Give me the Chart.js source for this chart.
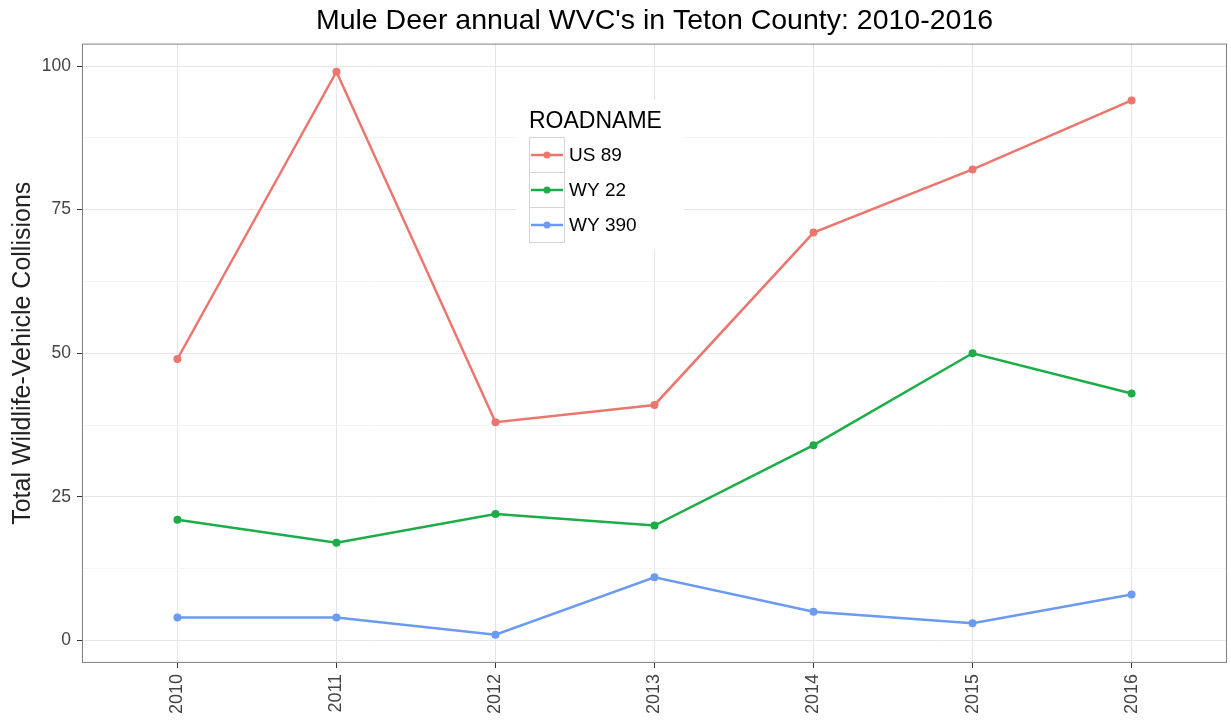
<!DOCTYPE html>
<html>
<head>
<meta charset="utf-8">
<script src="https://cdn.jsdelivr.net/npm/chart.js@4.4.1/dist/chart.umd.min.js"></script>
<style>
  html, body { margin: 0; padding: 0; background: #fff; }
  #wrap { width: 1231px; height: 721px; }
</style>
</head>
<body>
<div id="wrap"><canvas id="wvcChart"></canvas></div>
<script>
// data
const years = [2010, 2011, 2012, 2013, 2014, 2015, 2016];
const us89 = [49, 99, 38, 41, 71, 82, 94];
const wy22 = [21, 17, 22, 20, 34, 50, 43];
const wy390 = [4, 4, 1, 11, 5, 3, 8];
const yTicks = [0, 25, 50, 75, 100];
const yMinor = [12.5, 37.5, 62.5, 87.5];
const seriesNames = ['US 89', 'WY 22', 'WY 390'];
const seriesColors = ['#EC766E', '#1CAD48', '#6A9BF0'];

const FONT = '"Liberation Sans", Arial, sans-serif';

function toPoints(vals) {
    return years.map((yr, i) => ({ x: yr, y: vals[i] }));
}

// title, panel border and the inside legend
const ggExtras = {
    id: 'ggExtras',
    afterDatasetsDraw(chart) {
        const ctx = chart.ctx;
        const a = chart.chartArea;
        ctx.save();
        ctx.strokeStyle = '#7F7F7F';
        ctx.lineWidth = 1;
        ctx.strokeRect(a.left + 0.5, a.top + 0.5, a.right - a.left - 1, a.bottom - a.top - 1);

        // legend
        ctx.fillStyle = '#fff';
        ctx.fillRect(516, 100, 168, 150);
        ctx.fillStyle = '#000';
        ctx.font = '23px ' + FONT;
        ctx.textBaseline = 'middle';
        ctx.textAlign = 'left';
        ctx.fillText('ROADNAME', 529, 122);
        chart.data.datasets.forEach((ds, i) => {
            const y0 = 137 + i * 35;
            ctx.strokeStyle = '#D4D4D4';
            ctx.lineWidth = 1;
            ctx.strokeRect(529.5, y0 + 0.5, 35, 35);
            ctx.strokeStyle = ds.borderColor;
            ctx.lineWidth = 2.5;
            ctx.beginPath();
            ctx.moveTo(531, y0 + 18);
            ctx.lineTo(563, y0 + 18);
            ctx.stroke();
            ctx.fillStyle = ds.borderColor;
            ctx.beginPath();
            ctx.arc(547, y0 + 18, 3.5, 0, Math.PI * 2);
            ctx.fill();
            ctx.fillStyle = '#000';
            ctx.font = '19px ' + FONT;
            ctx.fillText(ds.label, 569, y0 + 19);
        });

        // title
        ctx.fillStyle = '#000';
        ctx.font = '28.5px ' + FONT;
        ctx.textAlign = 'center';
        ctx.fillText("Mule Deer annual WVC's in Teton County: 2010-2016", (a.left + a.right) / 2, 21);
        ctx.restore();
    }
};

const datasets = [us89, wy22, wy390].map((vals, i) => ({
    label: seriesNames[i],
    data: toPoints(vals),
    borderColor: seriesColors[i],
    backgroundColor: seriesColors[i],
    borderWidth: 2.5,
    pointRadius: 4,
    pointBorderWidth: 0,
    pointHoverRadius: 4,
    tension: 0
}));

new Chart(document.getElementById('wvcChart'), {
    type: 'line',
    data: { datasets: datasets },
    options: {
        responsive: true,
        maintainAspectRatio: false,
        animation: false,
        layout: { padding: { top: 43.6, right: 1, left: 0, bottom: 0 } },
        plugins: {
            legend: { display: false },
            title: { display: false },
            tooltip: { enabled: false }
        },
        scales: {
            x: {
                type: 'linear',
                min: 2009.4,
                max: 2016.6,
                afterBuildTicks: (scale) => { scale.ticks = years.map(v => ({ value: v })); },
                afterFit: (scale) => { scale.height = 58.1; },
                border: { display: false },
                grid: {
                    color: '#E6E6E6',
                    lineWidth: 1,
                    tickColor: '#333',
                    tickLength: 5
                },
                ticks: {
                    autoSkip: false,
                    minRotation: 90,
                    maxRotation: 90,
                    padding: 6,
                    color: '#444',
                    font: { family: FONT, size: 18 },
                    callback: (v) => String(v)
                }
            },
            y: {
                min: -3.9,
                max: 103.9,
                afterBuildTicks: (scale) => {
                    scale.ticks = yTicks.concat(yMinor).sort((p, q) => p - q).map(v => ({ value: v }));
                },
                afterFit: (scale) => { scale.width = 82; },
                border: { display: false },
                grid: {
                    color: (c) => yTicks.includes(c.tick.value) ? '#E6E6E6' : '#F4F4F4',
                    lineWidth: 1,
                    tickColor: (c) => yTicks.includes(c.tick.value) ? '#333' : 'rgba(0,0,0,0)',
                    tickLength: 5
                },
                ticks: {
                    padding: 6,
                    color: '#444',
                    font: { family: FONT, size: 17.5 },
                    callback: (v) => yTicks.includes(v) ? String(v) : ''
                },
                title: {
                    display: true,
                    text: 'Total Wildlife-Vehicle Collisions',
                    color: '#222',
                    font: { family: FONT, size: 25 },
                    padding: { top: 8, bottom: 0 }
                }
            }
        }
    },
    plugins: [ggExtras]
});
</script>
</body>
</html>
